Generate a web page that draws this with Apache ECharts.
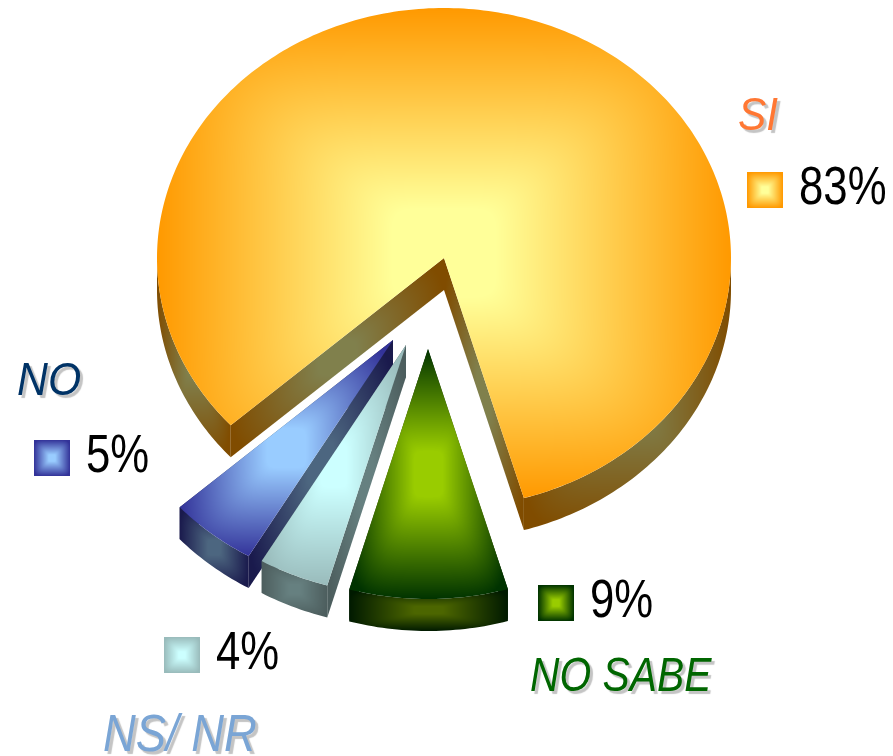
<!DOCTYPE html>
<html>
<head>
<meta charset="utf-8">
<style>
html,body{margin:0;padding:0;background:#fff;}
#main{width:893px;height:756px;}
</style>
<script src="https://cdn.jsdelivr.net/npm/echarts@6/dist/echarts.min.js"></script>
</head>
<body>
<div id="main"></div>
<script>
// clockwise from the start of the big slice
var categories = ['SI', 'NO SABE', 'NS/ NR', 'NO'];
var values = [83, 9, 4, 5];

// styling and layout, per category
var centerColors = ['#ffff99', '#99cc00', '#ccffff', '#99ccff'];
var edgeColors = ['#ff9900', '#003300', '#99bbbb', '#333399'];
var labelColors = ['#ff7733', '#006600', '#7aa5d5', '#003366'];
var explodeX = [0, -16, -38, -51];
var explodeY = [0, 91, 87, 82];
var layers = [0, 30, 20, 10];
var keyX = [747, 538, 164, 34];
var keyY = [172, 585, 637, 440];
var labelX = [738, 530, 103, 17];
var labelY = [117, 678, 737, 382];
var labelSize = [46, 48, 51, 46];
var labelStretch = [0.92, 0.85, 0.89, 0.93];

var W = 893, H = 756;
var cx = 444, cy = 258, rx = 287, ry = 250, depth = 32;
var startAngle = 138;
var FONT = '"Liberation Sans",Arial,sans-serif';

var total = values.reduce(function (a, b) { return a + b; }, 0);

function hex(c) {
  return [parseInt(c.substr(1, 2), 16), parseInt(c.substr(3, 2), 16), parseInt(c.substr(5, 2), 16)];
}

// rectangular "from centre" gradient over a bounding box, as a full page pattern
var patterns = {};
function rectFill(idx, pts, dark) {
  var x0 = Infinity, x1 = -Infinity, y0 = Infinity, y1 = -Infinity;
  pts.forEach(function (p) {
    x0 = Math.min(x0, p[0]); x1 = Math.max(x1, p[0]);
    y0 = Math.min(y0, p[1]); y1 = Math.max(y1, p[1]);
  });
  var key = [idx, dark, x0, x1, y0, y1].join('_');
  if (patterns[key]) return patterns[key];
  var c0 = hex(centerColors[idx]), c1 = hex(edgeColors[idx]);
  var k = dark ? 0.5 : 1;
  var can = document.createElement('canvas');
  can.width = W; can.height = H;
  var ctx = can.getContext('2d');
  var bx = Math.max(0, Math.floor(x0) - 2), by = Math.max(0, Math.floor(y0) - 2);
  var bw = Math.min(W - bx, Math.ceil(x1 - x0) + 5), bh = Math.min(H - by, Math.ceil(y1 - y0) + 5);
  var img = ctx.createImageData(bw, bh);
  var mx = (x0 + x1) / 2, my = (y0 + y1) / 2, hw = (x1 - x0) / 2 || 1, hh = (y1 - y0) / 2 || 1;
  for (var j = 0; j < bh; j++) {
    for (var i = 0; i < bw; i++) {
      var u = Math.abs(bx + i + 0.5 - mx) / hw, v = Math.abs(by + j + 0.5 - my) / hh;
      // soft corners and a small flat spot in the middle
      var t = Math.pow(Math.pow(u, 6) + Math.pow(v, 6), 1 / 6);
      t = Math.max(0, Math.min(1, (t - 0.18) / 0.82));
      var o = (j * bw + i) * 4;
      img.data[o] = (c0[0] + (c1[0] - c0[0]) * t) * k;
      img.data[o + 1] = (c0[1] + (c1[1] - c0[1]) * t) * k;
      img.data[o + 2] = (c0[2] + (c1[2] - c0[2]) * t) * k;
      img.data[o + 3] = 255;
    }
  }
  ctx.putImageData(img, bx, by);
  patterns[key] = { image: can, repeat: 'no-repeat' };
  return patterns[key];
}

function pt(a, dx, dy) {
  var r = a * Math.PI / 180;
  return [cx + rx * Math.cos(r) + dx, cy + ry * Math.sin(r) + dy];
}

function arc(a0, a1, dx, dy) {
  var out = [];
  var n = Math.max(2, Math.ceil(a1 - a0));
  for (var i = 0; i <= n; i++) out.push(pt(a0 + (a1 - a0) * i / n, dx, dy));
  return out;
}

function down(pts) {
  return pts.map(function (p) { return [p[0], p[1] + depth]; }).reverse();
}

function face(idx, pts, dark, z) {
  return {
    type: 'polygon',
    z2: z,
    shape: { points: pts },
    style: { fill: rectFill(idx, pts, dark) }
  };
}

function renderSlice(params, api) {
  var idx = params.dataIndex;
  var value = api.value(0);
  var before = 0;
  for (var i = 0; i < idx; i++) before += values[i];
  var a0 = startAngle + before / total * 360;
  var a1 = a0 + value / total * 360;
  var dx = explodeX[idx], dy = explodeY[idx], z = layers[idx];
  var tip = [cx + dx, cy + dy];
  var kids = [];

  // cut walls
  [a1, a0].forEach(function (a) {
    var e = [tip, pt(a, dx, dy)];
    kids.push(face(idx, e.concat(down(e)), true, z));
  });
  // rim, only the part turned to the viewer
  [0, 360].forEach(function (base) {
    var s = Math.max(a0, base), f = Math.min(a1, base + 180);
    if (f > s) {
      var rim = arc(s, f, dx, dy);
      kids.push(face(idx, rim.concat(down(rim)), true, z + 1));
    }
  });
  // top
  kids.push(face(idx, [tip].concat(arc(a0, a1, dx, dy)), false, z + 2));

  // key square
  var kx = keyX[idx], ky = keyY[idx];
  kids.push(face(idx, [[kx, ky], [kx + 36, ky], [kx + 36, ky + 36], [kx, ky + 36]], false, 50));
  // percent text
  kids.push({
    type: 'text', z2: 51,
    x: kx + 52, y: ky + 17, scaleX: 0.81,
    style: {
      x: 0, y: 0, text: value + '%',
      font: '54px ' + FONT, fill: '#000', textAlign: 'left', textVerticalAlign: 'middle'
    }
  });
  // category label
  kids.push({
    type: 'text', z2: 51,
    x: labelX[idx], y: labelY[idx], scaleX: labelStretch[idx],
    style: {
      x: 0, y: 0, text: categories[idx],
      font: 'italic ' + labelSize[idx] + 'px ' + FONT, fill: labelColors[idx],
      textAlign: 'left', textVerticalAlign: 'middle',
      textShadowColor: '#c4c4c4', textShadowOffsetX: 3, textShadowOffsetY: 3, textShadowBlur: 1
    }
  });
  return { type: 'group', children: kids };
}

var chart = echarts.init(document.getElementById('main'));
var option = {
  animation: false,
  backgroundColor: '#fff',
  series: [{
    type: 'custom',
    coordinateSystem: 'none',
    silent: true,
    renderItem: renderSlice,
    data: values.map(function (v, i) { return { name: categories[i], value: [v] }; })
  }]
};
chart.setOption(option);
</script>
</body>
</html>
